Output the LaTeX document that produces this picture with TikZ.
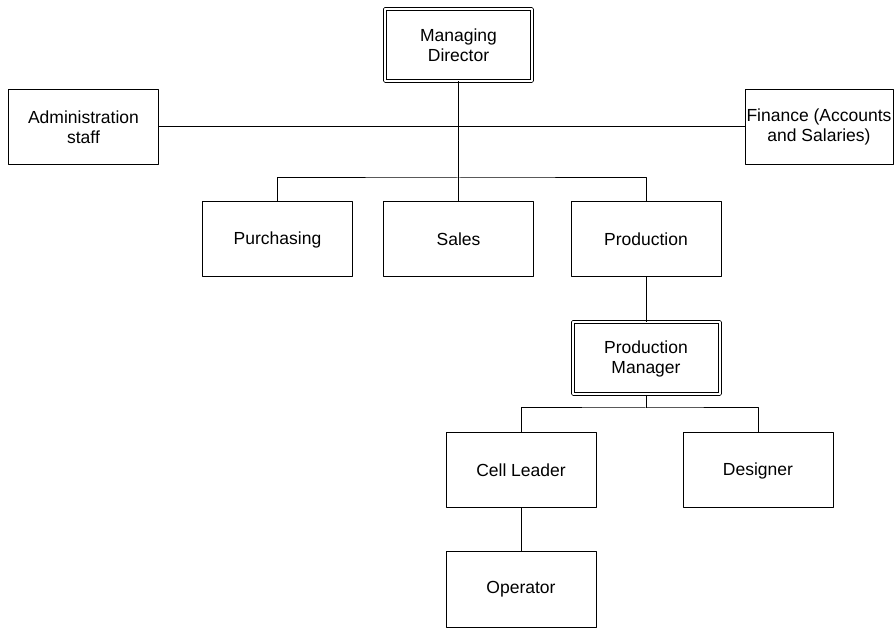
\documentclass[tikz,border=0pt]{standalone}
\usepackage{fontspec}
\setmainfont{Liberation Sans}
\begin{document}
\begin{tikzpicture}[line join=bevel,
  unit/.style={draw=black,line width=1bp,minimum width=150bp,minimum height=75bp,inner sep=0pt,align=center,font=\fontsize{17.5bp}{20bp}\selectfont},
  head/.style={unit,double,double distance=2bp,minimum width=147bp,minimum height=72bp},
  link/.style={black,line width=1bp}]
\useasboundingbox (0bp,0bp) rectangle (895bp,628bp);
%%
\node (node_md) at (458.5bp,583bp) [head] {Managing\\Director};
  \node (node_admin) at (83.5bp,501bp) [unit] {Administration\\staff};
  \node (node_fin) at (819bp,501bp) [unit,minimum width=148bp] {Finance (Accounts\\and Salaries)};
  \node (node_purch) at (277.5bp,388.5bp) [unit] {Purchasing};
  \node (node_sales) at (458.5bp,388.5bp) [unit] {Sales};
  \node (node_prod) at (646bp,388.5bp) [unit] {Production};
  \node (node_pm) at (646bp,269.5bp) [head] {Production\\Manager};
  \node (node_cell) at (521bp,157.5bp) [unit] {Cell Leader};
  \node (node_des) at (758bp,157.5bp) [unit] {Designer};
  \node (node_op) at (521bp,38.5bp) [unit] {Operator};
  \coordinate (branch_md) at (458.5bp,450bp);
  \coordinate (branch_pm) at (646bp,220bp);
%
  \draw [link] (node_admin) -- (node_fin);
  \draw [link] (node_md) -- (node_sales);
  \draw [link] (node_purch.north) |- (branch_md) -| (node_prod.north);
  \draw [link] (node_prod) -- (node_pm);
  \draw [link] (node_pm) -- (branch_pm);
  \draw [link] (node_cell.north) |- (branch_pm) -| (node_des.north);
  \draw [link] (node_cell) -- (node_op);
%
\end{tikzpicture}
\end{document}
